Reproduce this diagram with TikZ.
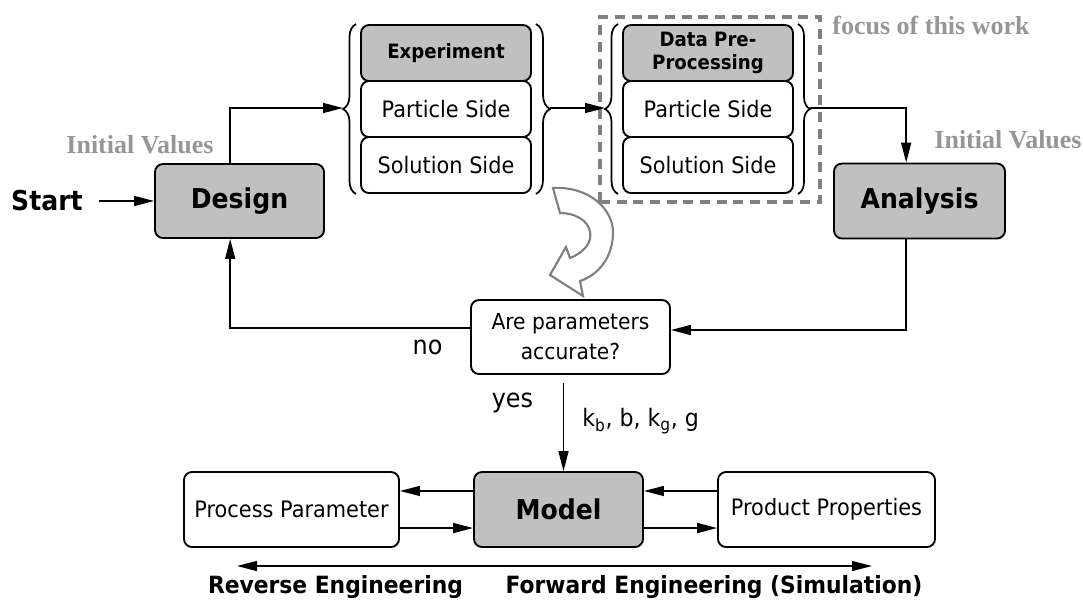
\documentclass[tikz,border=0pt]{standalone}
\usepackage{fontspec}
\setmainfont{DejaVu Sans}[FakeStretch=0.92]
\newfontfamily\tnr{Liberation Serif}
\usetikzlibrary{arrows.meta,decorations.pathreplacing,calc}
\definecolor{boxgray}{RGB}{192,192,192}
\definecolor{linegray}{RGB}{128,128,128}
\definecolor{txtgray}{RGB}{150,150,150}
\begin{document}
\begin{tikzpicture}[x=0.75pt,y=-0.75pt,
  box/.style={draw,line width=1.4pt,rounded corners=6pt,inner sep=0pt,align=center},
  gbox/.style={box,fill=boxgray},
  big/.style={font=\fontsize{20.5}{24}\selectfont\bfseries},
  reg/.style={font=\fontsize{17}{22.5}\selectfont},
  dec/.style={font=\fontsize{16.5}{22.5}\selectfont},
  sml/.style={font=\fontsize{14.8}{17.5}\selectfont\bfseries},
  gtxt/.style={font=\fontsize{19.5}{22}\selectfont\tnr\bfseries,text=txtgray,inner sep=0pt},
  lbl/.style={inner sep=0pt},
  conn/.style={line width=1.1pt,-{Triangle[length=15pt,width=7.5pt]}},
  brc/.style={decorate,line width=1.3pt,decoration={brace,amplitude=#1}},
  ]
\useasboundingbox (0,0) rectangle (1083,601);

% focus box
\node[draw=linegray,line width=2.4pt,dash pattern=on 7.5pt off 5pt,
      minimum width=165pt,minimum height=138.75pt,inner sep=0pt] (focus) at (710,109.5) {};
\node[gtxt] (focuslbl) at (931,25) {focus of this work};

% main boxes
\node[lbl,big] (start) at (47,201) {Start};
\node[gbox,big,minimum width=126.75pt,minimum height=55.5pt] (design) at (239.5,201) {Design};
\node[gbox,big,minimum width=128.25pt,minimum height=56.25pt] (analysis) at (919.5,201) {Analysis};

% experiment stack
\node[gbox,sml,minimum width=127.5pt,minimum height=42pt] (exp) at (446,53) {Experiment};
\node[box,reg,minimum width=127.5pt,minimum height=42pt] (expP) at (446,109) {Particle Side};
\node[box,reg,minimum width=127.5pt,minimum height=42pt] (expS) at (446,165) {Solution Side};
% data stack
\node[gbox,sml,minimum width=127.5pt,minimum height=42pt] (dat) at (708,53) {Data Pre-\\Processing};
\node[box,reg,minimum width=127.5pt,minimum height=42pt] (datP) at (708,109) {Particle Side};
\node[box,reg,minimum width=127.5pt,minimum height=42pt] (datS) at (708,165) {Solution Side};

% braces
\draw[brc=9.75pt] (356,194) -- (356,24);
\draw[brc=10.5pt] (536,24) -- (536,194);
\draw[brc=9.75pt] (618,194) -- (618,24);
\draw[brc=9pt] (798,24) -- (798,194);
\coordinate (expL) at (343,108);
\coordinate (expR) at (550,108);
\coordinate (datL) at (605,108);
\coordinate (datR) at (810,108);

% gray labels
\node[gtxt] (iv1) at (140,145) {Initial Values};
\node[gtxt] (iv2) at (1008,140) {Initial Values};

% decision
\node[box,dec,minimum width=149.25pt,minimum height=55.5pt] (decision) at (570.5,337) {Are parameters\\accurate?};

% bottom row
\node[box,reg,minimum width=161.25pt,minimum height=56.25pt] (pp) at (291.5,509.5) {Process Parameter};
\node[gbox,big,minimum width=126.75pt,minimum height=56.25pt] (model) at (558.5,509.5) {Model};
\node[box,reg,minimum width=162.75pt,minimum height=56.25pt] (prod) at (826.5,509.5) {Product Properties};

% curved hollow arrow
\draw[line width=1.6pt,draw=linegray,fill=white,line join=miter]
  (553,188) .. controls (590,186) and (613,210) .. (613,232)
  .. controls (613,258) and (598,275) .. (580,281)
  -- (583,296) -- (550,275) -- (566,247) -- (570,258)
  .. controls (585,252) and (592,242) .. (590,232)
  .. controls (588,220) and (575,213) .. (560,213) -- cycle;

% connectors
\draw[conn] ([xshift=12pt]start.east) -- (design.west);
\draw[conn] ([xshift=-7pt]design.north) |- (expL);
\draw[conn] (expR) -- (datL);
\draw[conn] (datR) -| ([xshift=-10pt]analysis.north);
\draw[conn] ([xshift=-10pt]analysis.south) |- ([yshift=5.25pt]decision.east);
\draw[conn] ([yshift=6.75pt]decision.west) -| ([xshift=-7pt]design.south);
\path ([xshift=-5.25pt,yshift=-6pt]decision.south) coordinate (ks);
\draw[conn] (ks) -- (ks |- model.north);

\draw[conn] ([yshift=13.9pt]model.west) -- ([yshift=13.9pt]pp.east);
\draw[conn] ([yshift=-13.9pt]pp.east) -- ([yshift=-13.9pt]model.west);
\draw[conn] ([yshift=13.9pt]prod.west) -- ([yshift=13.9pt]model.east);
\draw[conn] ([yshift=-13.9pt]model.east) -- ([yshift=-13.9pt]prod.west);

\coordinate (revL) at (237,566);
\coordinate (fwdR) at (872,566);
\draw[line width=1.1pt,{Triangle[length=15pt,width=7.5pt]}-{Triangle[length=15pt,width=7.5pt]}] (revL) -- (fwdR);

% labels
\node[lbl,font=\fontsize{19.5}{22}\selectfont] (no) at (427.5,347) {no};
\node[lbl,font=\fontsize{19.5}{22}\selectfont] (yes) at (512.5,403) {yes};
\node[lbl,font=\fontsize{18}{22}\selectfont,anchor=west] (kpar) at (582,421) {k\textsubscript{b}, b, k\textsubscript{g}, g};
\node[lbl,font=\fontsize{17.8}{20}\selectfont\bfseries] (rev) at (335.5,587) {Reverse Engineering};
\node[lbl,font=\fontsize{17.8}{20}\selectfont\bfseries] (fwd) at (714,587) {Forward Engineering (Simulation)};
\end{tikzpicture}
\end{document}
